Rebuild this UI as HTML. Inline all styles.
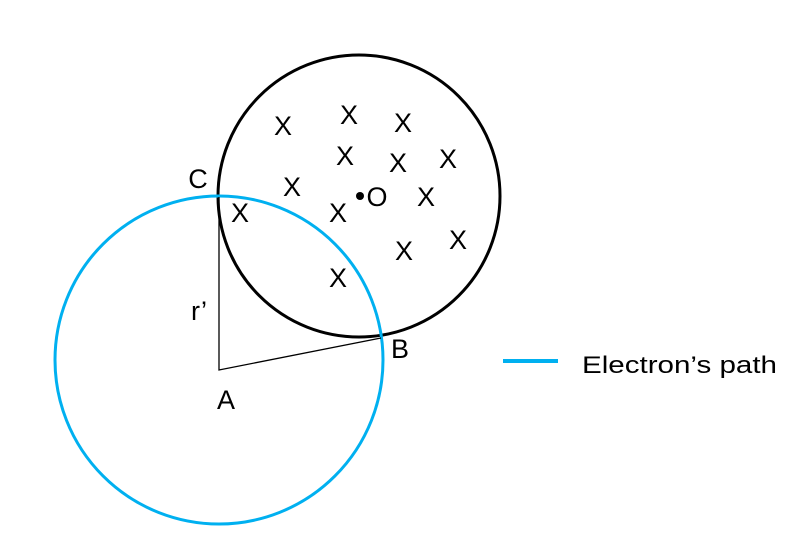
<!DOCTYPE html>
<html><head><meta charset="utf-8"><style>
html,body{margin:0;padding:0;background:#fff;}
svg{display:block;}
text{font-family:"Liberation Sans",sans-serif;fill:#000;}
</style></head><body>
<svg width="800" height="557" viewBox="0 0 800 557">
<circle cx="359" cy="196" r="141" fill="none" stroke="#000" stroke-width="3"/>
<circle cx="219" cy="360" r="164" fill="none" stroke="#00B0F0" stroke-width="3"/>
<polyline points="219,197 219,370 381,338" fill="none" stroke="#000" stroke-width="1.3"/>
<g font-size="27" text-anchor="middle">
<text x="283" y="135">X</text>
<text x="349" y="124">X</text>
<text x="403" y="132">X</text>
<text x="345" y="165">X</text>
<text x="398" y="172">X</text>
<text x="448" y="168">X</text>
<text x="292" y="196">X</text>
<text x="240" y="222">X</text>
<text x="338" y="222">X</text>
<text x="426" y="206">X</text>
<text x="458" y="249">X</text>
<text x="404" y="260">X</text>
<text x="338" y="287">X</text>
<text x="377" y="206">O</text>
<text x="198" y="188">C</text>
<text x="400" y="358">B</text>
<text x="226" y="409">A</text>
<text x="199" y="320">r’</text>
</g>
<circle cx="360" cy="196" r="4" fill="#000"/>
<line x1="503" y1="361" x2="558" y2="361" stroke="#00B0F0" stroke-width="4"/>
<text x="582" y="373" font-size="24" textLength="195" lengthAdjust="spacingAndGlyphs">Electron’s path</text>
</svg>
</body></html>
